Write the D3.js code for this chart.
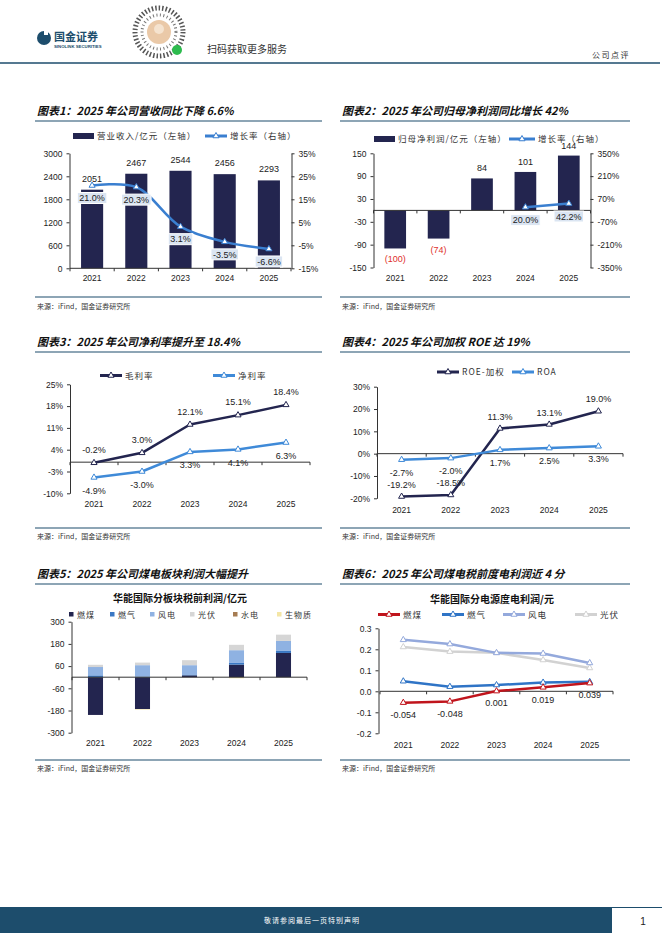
<!DOCTYPE html>
<html>
<head>
<meta charset="utf-8">
<script src="https://cdn.jsdelivr.net/npm/d3@7"></script>
<style>
body { margin:0; background:#fff; }
</style>
</head>
<body>
<script>
// data
var years = ["2021", "2022", "2023", "2024", "2025"];

var revenue = [2051, 2467, 2544, 2456, 2293];
var revenueGrowth = [21.0, 20.3, 3.1, -3.5, -6.6];
var revTicks = [0, 600, 1200, 1800, 2400, 3000];
var revGrowthTicks = [-15, -5, 5, 15, 25, 35];

var netProfit = [-100, -74, 84, 101, 144];
var netProfitGrowth = [null, null, null, 20.0, 42.2];
var npTicks = [-150, -90, -30, 30, 90, 150];
var npGrowthTicks = [-350, -210, -70, 70, 210, 350];

var grossMargin = [-0.2, 3.0, 12.1, 15.1, 18.4];
var netMargin = [-4.9, -3.0, 3.3, 4.1, 6.3];
var marginTicks = [-10, -3, 4, 11, 18, 25];

var roeWeighted = [-19.2, -18.5, 11.3, 13.1, 19.0];
var roa = [-2.7, -2.0, 1.7, 2.5, 3.3];
var roeTicks = [-20, -10, 0, 10, 20, 30];

var segmentNames = ["燃煤", "燃气", "风电", "光伏", "水电", "生物质"];
var segCoal = [-204, -172, 10, 68, 131];
var segGas = [10, 2, 2, 9, 11];
var segWind = [45, 63, 53, 69, 54];
var segSolar = [12, 14, 27, 29, 34];
var segHydro = [0, 0, 0, 0, 0];
var segBio = [0, -3, 0, -6, 0];
var segTicks = [-300, -180, -60, 60, 180, 300];

var unitNames = ["燃煤", "燃气", "风电", "光伏"];
var unitCoal = [-0.054, -0.048, 0.001, 0.019, 0.039];
var unitGas = [0.048, 0.022, 0.030, 0.042, 0.045];
var unitWind = [0.245, 0.225, 0.183, 0.180, 0.135];
var unitSolar = [0.211, 0.189, 0.183, 0.149, 0.111];
var unitTicks = [-0.2, -0.1, 0, 0.1, 0.2, 0.3];

var NUM = "'Liberation Sans', Arial, sans-serif";
var CN = "'Noto Sans CJK SC', sans-serif";
var teal = "#1d4d6c";
var navy = "#23254f";
var blue = "#3a7fd0";

var svg = d3.select("body").append("svg").attr("width", 662).attr("height", 936);
var tri = d3.symbol().type(d3.symbolTriangle).size(16);

drawHeader();
drawFrame(37, 35, 322, 115, 121, 297, 309, "图表1：2025 年公司营收同比下降 6.6%");
drawFrame(342, 340, 630, 115, 121, 297, 309, "图表2：2025 年公司归母净利润同比增长 42%");
drawFrame(37, 35, 322, 346, 352, 528, 539, "图表3：2025 年公司净利率提升至 18.4%");
drawFrame(342, 340, 630, 346, 352, 528, 539, "图表4：2025 年公司加权 ROE 达 19%");
drawFrame(37, 35, 322, 578, 584, 760, 771, "图表5：2025 年公司煤电板块利润大幅提升");
drawFrame(342, 340, 630, 578, 584, 760, 771, "图表6：2025 年公司煤电税前度电利润近 4 分");
drawFooter();

chartRevenue();
chartNetProfit();
chartMargins();
chartRoe();
chartSegments();
chartUnitProfit();

// plain hyphen minus like the report, not d3's unicode minus
function fix(n) { return function(v) { return (+v).toFixed(n); }; }
function pct0(v) { return v + "%"; }
function pct1(v) { return v.toFixed(1) + "%"; }

function drawHeader() {
	svg.append("circle").attr("cx", 44).attr("cy", 38).attr("r", 7).attr("fill", teal);
	svg.append("rect").attr("x", 44).attr("y", 31).attr("width", 4).attr("height", 4).attr("fill", "#fff");
	svg.append("text").attr("x", 54).attr("y", 41).text("国金证券")
		.style("font", "bold 11px " + CN).attr("fill", teal);
	svg.append("text").attr("x", 54).attr("y", 48).text("SINOLINK SECURITIES")
		.style("font", "bold 4.3px " + NUM).attr("fill", teal);

	// qr code look-alike
	var qr = svg.append("g").attr("transform", "translate(159,32)");
	qr.append("circle").attr("r", 24).attr("fill", "none").attr("stroke", "#555")
		.attr("stroke-width", 5).attr("stroke-dasharray", "1.5 2");
	qr.append("circle").attr("r", 17).attr("fill", "none").attr("stroke", "#777")
		.attr("stroke-width", 3).attr("stroke-dasharray", "1 2.5");
	qr.append("circle").attr("r", 12).attr("fill", "#eac9a8");
	qr.append("circle").attr("r", 5).attr("cy", -3).attr("fill", "#f5e3cf");
	qr.append("circle").attr("cx", 18).attr("cy", 18).attr("r", 5).attr("fill", "#2dbb4e");

	svg.append("text").attr("x", 207).attr("y", 53).text("扫码获取更多服务")
		.style("font", "10px " + CN).attr("fill", "#333");
	svg.append("text").attr("x", 630).attr("y", 58).attr("text-anchor", "end").text("公司点评")
		.style("font", "8px " + CN).attr("fill", "#333").style("letter-spacing", "1.5px");
	svg.append("line").attr("x1", 0).attr("x2", 660).attr("y1", 63).attr("y2", 63)
		.attr("stroke", teal).attr("stroke-width", 1.3);
}

function drawFrame(tx, lx0, lx1, ty, ly, by, sy, title) {
	svg.append("text").attr("x", tx).attr("y", ty).text(title)
		.style("font", "italic bold 11px " + CN).attr("fill", "#111");
	svg.append("line").attr("x1", lx0).attr("x2", lx1).attr("y1", ly).attr("y2", ly)
		.attr("stroke", teal).attr("stroke-width", 1.2);
	svg.append("line").attr("x1", lx0).attr("x2", lx1).attr("y1", by).attr("y2", by)
		.attr("stroke", teal).attr("stroke-width", 1.2);
	svg.append("text").attr("x", tx).attr("y", sy).text("来源：iFind，国金证券研究所")
		.style("font", "7px " + CN).attr("fill", "#333");
}

function drawFooter() {
	svg.append("rect").attr("x", 0).attr("y", 907).attr("width", 612).attr("height", 26).attr("fill", teal);
	svg.append("line").attr("x1", 612).attr("x2", 662).attr("y1", 907.5).attr("y2", 907.5)
		.attr("stroke", teal).attr("stroke-width", 1);
	svg.append("text").attr("x", 312).attr("y", 923).attr("text-anchor", "middle").text("敬请参阅最后一页特别声明")
		.style("font", "7px " + CN).attr("fill", "#fff").style("letter-spacing", "1px");
	svg.append("text").attr("x", 643).attr("y", 925).attr("text-anchor", "middle").text("1")
		.style("font", "10px " + NUM).attr("fill", "#222");
}

function styleAxis(g) {
	g.select(".domain").attr("stroke", "#333");
	g.selectAll(".tick line").attr("stroke", "#333");
	g.selectAll(".tick text").style("font", "8.5px " + NUM).attr("fill", "#222");
}

function yAxisLeft(y, x, ticks, fmt) {
	svg.append("g").attr("transform", "translate(" + x + ",0)")
		.call(d3.axisLeft(y).tickValues(ticks).tickFormat(fmt).tickSize(3).tickSizeOuter(0).tickPadding(4))
		.call(styleAxis);
}

function yAxisRight(y, x, ticks, fmt) {
	svg.append("g").attr("transform", "translate(" + x + ",0)")
		.call(d3.axisRight(y).tickValues(ticks).tickFormat(fmt).tickSize(3).tickSizeOuter(0).tickPadding(4))
		.call(styleAxis);
}

// category axis with excel-style ticks between the categories
function catAxis(x, x0, x1, yLine, yLabel) {
	var step = (x1 - x0) / years.length;
	var g = svg.append("g");
	g.append("line").attr("x1", x0).attr("x2", x1).attr("y1", yLine).attr("y2", yLine)
		.attr("stroke", "#333").attr("stroke-width", 1);
	g.selectAll(".bt").data(d3.range(years.length + 1)).enter().append("line")
		.attr("x1", function(i) { return x0 + i * step; })
		.attr("x2", function(i) { return x0 + i * step; })
		.attr("y1", yLine).attr("y2", yLine + 3)
		.attr("stroke", "#333");
	var off = x.bandwidth ? x.bandwidth() / 2 : 0;
	g.selectAll(".lb").data(years).enter().append("text")
		.attr("x", function(d) { return x(d) + off; })
		.attr("y", yLabel).attr("text-anchor", "middle")
		.text(function(d) { return d; })
		.style("font", "8.5px " + NUM).attr("fill", "#222");
}

function legendLine(x, y, color, label, w) {
	w = w || 22;
	svg.append("line").attr("x1", x).attr("x2", x + w).attr("y1", y).attr("y2", y)
		.attr("stroke", color).attr("stroke-width", 3);
	svg.append("path").attr("d", tri).attr("transform", "translate(" + (x + w / 2) + "," + y + ")")
		.attr("fill", "#fff").attr("stroke", color).attr("stroke-width", 1);
	svg.append("text").attr("x", x + w + 3).attr("y", y + 3).text(label)
		.style("font", "8.5px " + CN).attr("fill", "#333").style("letter-spacing", "1px");
}

function drawSeries(x, y, values, color, width, curve) {
	var pts = years.map(function(d, i) { return { year: d, v: values[i] }; })
		.filter(function(d) { return d.v !== null; });
	var line = d3.line()
		.x(function(d) { return x(d.year); })
		.y(function(d) { return y(d.v); })
		.curve(curve || d3.curveLinear);
	svg.append("path").datum(pts).attr("d", line)
		.attr("fill", "none").attr("stroke", color).attr("stroke-width", width)
		.attr("stroke-linejoin", "round");
	svg.selectAll(null).data(pts).enter().append("path")
		.attr("d", tri)
		.attr("transform", function(d) { return "translate(" + x(d.year) + "," + y(d.v) + ")"; })
		.attr("fill", "#fff").attr("stroke", color).attr("stroke-width", 1);
	return pts;
}

function pointLabels(x, y, pts, dy, fmt, boxed) {
	pts.forEach(function(d) {
		var cx = x(d.year), cy = y(d.v) + dy;
		var t = svg.append("text").attr("x", cx).attr("y", cy + 3.2).attr("text-anchor", "middle")
			.text(fmt(d.v)).style("font", "9px " + NUM).attr("fill", "#222");
		if (boxed) {
			var b = t.node().getBBox();
			svg.insert("rect", function() { return t.node(); })
				.attr("x", b.x - 2).attr("y", cy - 5.5).attr("width", b.width + 4).attr("height", 11)
				.attr("fill", "#dbe5f2").attr("stroke", "#fff").attr("stroke-width", 1);
		}
	});
}

function chartRevenue() {
	var x = d3.scaleBand().domain(years).range([70, 291]).paddingInner(0.5).paddingOuter(0.25);
	var y = d3.scaleLinear().domain([0, 3000]).range([268.3, 153.3]);
	var y2 = d3.scaleLinear().domain([-15, 35]).range([268.3, 153.3]);
	var xc = d3.scalePoint().domain(years).range([70, 291]).padding(0.5);

	svg.append("rect").attr("x", 73).attr("y", 133).attr("width", 21).attr("height", 6).attr("fill", navy);
	svg.append("text").attr("x", 97).attr("y", 139).text("营业收入/亿元（左轴）")
		.style("font", "8.5px " + CN).attr("fill", "#333").style("letter-spacing", "1px");
	legendLine(205, 136, blue, "增长率（右轴）");

	svg.selectAll(null).data(years).enter().append("rect")
		.attr("x", function(d) { return x(d); })
		.attr("y", function(d, i) { return y(revenue[i]); })
		.attr("width", x.bandwidth())
		.attr("height", function(d, i) { return y(0) - y(revenue[i]); })
		.attr("fill", navy);
	svg.selectAll(null).data(years).enter().append("text")
		.attr("x", function(d) { return xc(d); })
		.attr("y", function(d, i) { return y(revenue[i]) - 8; })
		.attr("text-anchor", "middle")
		.text(function(d, i) { return revenue[i]; })
		.style("font", "9px " + NUM).attr("fill", "#222");

	yAxisLeft(y, 69.5, revTicks, fix(0));
	yAxisRight(y2, 291.5, revGrowthTicks, pct0);
	catAxis(x, 70, 291, 268.3, 281);

	var pts = drawSeries(xc, y2, revenueGrowth, blue, 2.5, d3.curveCatmullRom.alpha(0.5));
	pointLabels(xc, y2, pts, 12.5, pct1, true);
}

function chartNetProfit() {
	var x = d3.scaleBand().domain(years).range([373.5, 590.5]).paddingInner(0.5).paddingOuter(0.25);
	var xc = d3.scalePoint().domain(years).range([373.5, 590.5]).padding(0.5);
	var y = d3.scaleLinear().domain([-150, 150]).range([267.5, 153.3]);
	var y2 = d3.scaleLinear().domain([-350, 350]).range([267.5, 153.3]);

	svg.selectAll(null).data(years).enter().append("rect")
		.attr("x", function(d) { return x(d); })
		.attr("y", function(d, i) { return y(Math.max(0, netProfit[i])); })
		.attr("width", x.bandwidth())
		.attr("height", function(d, i) { return Math.abs(y(netProfit[i]) - y(0)); })
		.attr("fill", navy);
	svg.selectAll(null).data(years).enter().append("text")
		.attr("x", function(d) { return xc(d); })
		.attr("y", function(d, i) { var v = netProfit[i]; return v < 0 ? y(v) + 14 : y(v) - 7; })
		.attr("text-anchor", "middle")
		.text(function(d, i) { var v = netProfit[i]; return v < 0 ? "(" + (-v) + ")" : v; })
		.attr("fill", function(d, i) { return netProfit[i] < 0 ? "#e0302c" : "#222"; })
		.style("font", "9px " + NUM);

	svg.append("rect").attr("x", 374).attr("y", 136).attr("width", 21).attr("height", 6).attr("fill", navy);
	svg.append("text").attr("x", 398).attr("y", 142).text("归母净利润/亿元（左轴）")
		.style("font", "8.5px " + CN).attr("fill", "#333").style("letter-spacing", "1px");
	legendLine(509, 139, blue, "增长率（右轴）", 26);

	yAxisLeft(y, 373.5, npTicks, fix(0));
	yAxisRight(y2, 590.5, npGrowthTicks, pct0);
	catAxis(x, 373.5, 590.5, y(0), 281);

	var pts = drawSeries(xc, y2, netProfitGrowth, blue, 2.5);
	pointLabels(xc, y2, pts, 13, pct1, true);
}

function chartMargins() {
	var x = d3.scalePoint().domain(years).range([70, 310]).padding(0.5);
	var y = d3.scaleLinear().domain([-10, 25]).range([493.3, 384.3]);
	var lblue = "#3f8ad8";

	legendLine(100, 375.5, navy, "毛利率");
	legendLine(213, 375.5, lblue, "净利率");

	yAxisLeft(y, 70, marginTicks, pct0);
	catAxis(x, 70, 310, y(0), 507);

	var p1 = drawSeries(x, y, grossMargin, navy, 2.5);
	var p2 = drawSeries(x, y, netMargin, lblue, 2.5);
	pointLabels(x, y, p1, -13, pct1, false);
	pointLabels(x, y, p2, 13, pct1, false);
}

function chartRoe() {
	var x = d3.scalePoint().domain(years).range([377, 623]).padding(0.5);
	var y = d3.scaleLinear().domain([-20, 30]).range([498.3, 386.7]);
	var lblue = "#3f8ad8";

	legendLine(437, 372, navy, "ROE-加权");
	legendLine(512, 372, lblue, "ROA");

	yAxisLeft(y, 377, roeTicks, pct0);
	catAxis(x, 377, 623, y(0), 512.5);

	var p1 = drawSeries(x, y, roeWeighted, navy, 2.5);
	var p2 = drawSeries(x, y, roa, lblue, 2.5);
	pointLabels(x, y, p1, -12, pct1, false);
	pointLabels(x, y, p2, 13, pct1, false);
}

function chartSegments() {
	var colors = ["#23254f", "#3a78c4", "#8fb2e2", "#d6d6d6", "#a67c52", "#f4e6a6"];
	var series = [segCoal, segGas, segWind, segSolar, segHydro, segBio];
	var table = years.map(function(yr, i) {
		var row = { year: yr };
		segmentNames.forEach(function(n, k) { row[n] = series[k][i]; });
		return row;
	});
	var stack = d3.stack().keys(segmentNames).offset(d3.stackOffsetDiverging);
	var x = d3.scaleBand().domain(years).range([72, 307]).paddingInner(0.68).paddingOuter(0.34);
	var y = d3.scaleLinear().domain([-300, 300]).range([732.7, 621.7]);

	svg.append("text").attr("x", 180).attr("y", 602).attr("text-anchor", "middle")
		.text("华能国际分板块税前利润/亿元").style("font", "bold 10px " + CN).attr("fill", "#111");

	var lg = svg.selectAll(null).data(segmentNames).enter().append("g")
		.attr("transform", function(d, i) { return "translate(" + [69, 110, 150, 190, 233, 277][i] + ",615)"; });
	lg.append("rect").attr("x", 0).attr("y", -3).attr("width", 4.5).attr("height", 4.5)
		.attr("fill", function(d, i) { return colors[i]; });
	lg.append("text").attr("x", 8).attr("y", 2.5).text(function(d) { return d; })
		.style("font", "8px " + CN).attr("fill", "#333").style("letter-spacing", "1px");

	svg.append("g").selectAll("g").data(stack(table)).enter().append("g")
		.attr("fill", function(d, i) { return colors[i]; })
		.selectAll("rect").data(function(d) { return d; }).enter().append("rect")
		.attr("x", function(d) { return x(d.data.year); })
		.attr("y", function(d) { return y(d[1]); })
		.attr("width", x.bandwidth())
		.attr("height", function(d) { return y(d[0]) - y(d[1]); });

	yAxisLeft(y, 71.5, segTicks, fix(0));
	catAxis(x, 72, 307, y(0), 746);
}

function chartUnitProfit() {
	var colors = ["#c0141c", "#2f74c6", "#94a9dc", "#d2d2d2"];
	var series = [unitCoal, unitGas, unitWind, unitSolar];
	var x = d3.scalePoint().domain(years).range([380, 613]).padding(0.5);
	var y = d3.scaleLinear().domain([-0.2, 0.3]).range([733.3, 628.3]);

	svg.append("text").attr("x", 492).attr("y", 603).attr("text-anchor", "middle")
		.text("华能国际分电源度电利润/元").style("font", "bold 10px " + CN).attr("fill", "#111");

	[378, 442, 503, 575].forEach(function(lx, i) {
		legendLine(lx, 614.5, colors[i], unitNames[i], 22);
	});

	yAxisLeft(y, 378.5, unitTicks, fix(1));
	catAxis(x, 380, 613, y(0), 747.5);

	for (var k = 3; k >= 0; k--) {
		var pts = drawSeries(x, y, series[k], colors[k], 2.5);
		if (k === 0) pointLabels(x, y, pts, 12, fix(3), false);
	}
}
</script>
</body>
</html>
